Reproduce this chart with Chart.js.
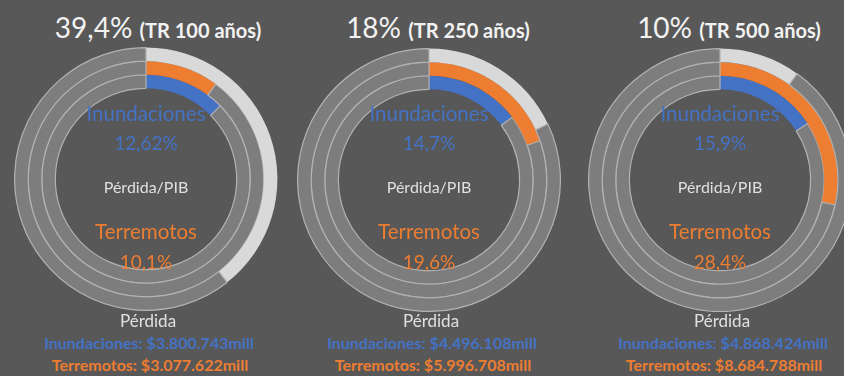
<!DOCTYPE html>
<html>
<head>
<meta charset="utf-8">
<script src="https://cdn.jsdelivr.net/npm/chart.js@4"></script>
<style>
  html, body { margin: 0; padding: 0; }
  body { width: 844px; height: 376px; background: #585858; position: relative; overflow: hidden; font-family: Lato, "Open Sans", sans-serif; }
  .ring { position: absolute; }
  .txt { position: absolute; transform: translate(-50%, -50%); white-space: nowrap; line-height: 1; }
  .title { color: #f2f2f2; font-size: 28px; }
  .title small { font-size: 20px; font-weight: 700; }
  .blue { color: #4472c4; }
  .orange { color: #ed7d31; }
  .big { font-size: 20.5px; }
  .pct { font-size: 19px; }
  .label { color: #e0e0e0; font-size: 16px; }
  .bottom { font-size: 17px; }
  .loss { font-size: 16px; font-weight: 700; }
</style>
</head>
<body>
<script>
// values
var periods = ['TR 100 años', 'TR 250 años', 'TR 500 años'];
var totalPct = [39.4, 18, 10];          // outer ring, pérdida/PIB total
var floodPct = [12.62, 14.7, 15.9];     // inner ring, inundaciones
var quakePct = [10.1, 19.6, 28.4];      // middle ring, terremotos
var floodLoss = ['$3.800.743mill', '$4.496.108mill', '$4.868.424mill'];
var quakeLoss = ['$3.077.622mill', '$5.996.708mill', '$8.684.788mill'];

var centers = [[146, 179], [429, 180], [720, 180]];
var size = 264;

function fmt(v) { return String(v).replace('.', ','); }

function addText(x, y, cls, html) {
    var d = document.createElement('div');
    d.className = 'txt ' + cls;
    d.style.left = x + 'px';
    d.style.top = y + 'px';
    d.innerHTML = html;
    document.body.appendChild(d);
}

function ring(value, color) {
    return {
        data: [value, 100 - value],
        backgroundColor: [color, '#7d7d7d'],
        borderColor: ['rgba(0,0,0,0)', '#b3b3b3'],
        borderWidth: [0, 1.2],
        weight: 1
    };
}

document.addEventListener('DOMContentLoaded', function() {
    for (var i = 0; i < periods.length; i++) {
        var cx = centers[i][0], cy = centers[i][1];
        var canvas = document.createElement('canvas');
        canvas.className = 'ring';
        canvas.width = size;
        canvas.height = size;
        canvas.style.left = (cx - size / 2) + 'px';
        canvas.style.top = (cy - size / 2) + 'px';
        document.body.appendChild(canvas);

        new Chart(canvas.getContext('2d'), {
            type: 'doughnut',
            data: {
                labels: ['valor', 'resto'],
                datasets: [
                    ring(totalPct[i], '#d9d9d9'),
                    ring(quakePct[i], '#ed7d31'),
                    ring(floodPct[i], '#4472c4')
                ]
            },
            options: {
                responsive: false,
                animation: false,
                cutout: '69%',
                layout: { padding: 0 },
                plugins: { legend: { display: false }, tooltip: { enabled: false } }
            }
        });

        addText(cx + 12 - (i === 0 ? 0 : 3), 27, 'title', fmt(totalPct[i]) + '% <small>(' + periods[i] + ')</small>');
        addText(cx, 113, 'blue big', 'Inundaciones');
        addText(cx, 142, 'blue pct', fmt(floodPct[i]) + '%');
        addText(cx, 187, 'label', 'Pérdida/PIB');
        addText(cx, 231, 'orange big', 'Terremotos');
        addText(cx, 261, 'orange pct', fmt(quakePct[i]) + '%');
        addText(cx + 2, 320, 'label bottom', 'Pérdida');
        addText(cx + 3, 343, 'blue loss', 'Inundaciones: ' + floodLoss[i]);
        addText(cx + 4, 365, 'orange loss', 'Terremotos: ' + quakeLoss[i]);
    }
});
</script>
</body>
</html>
